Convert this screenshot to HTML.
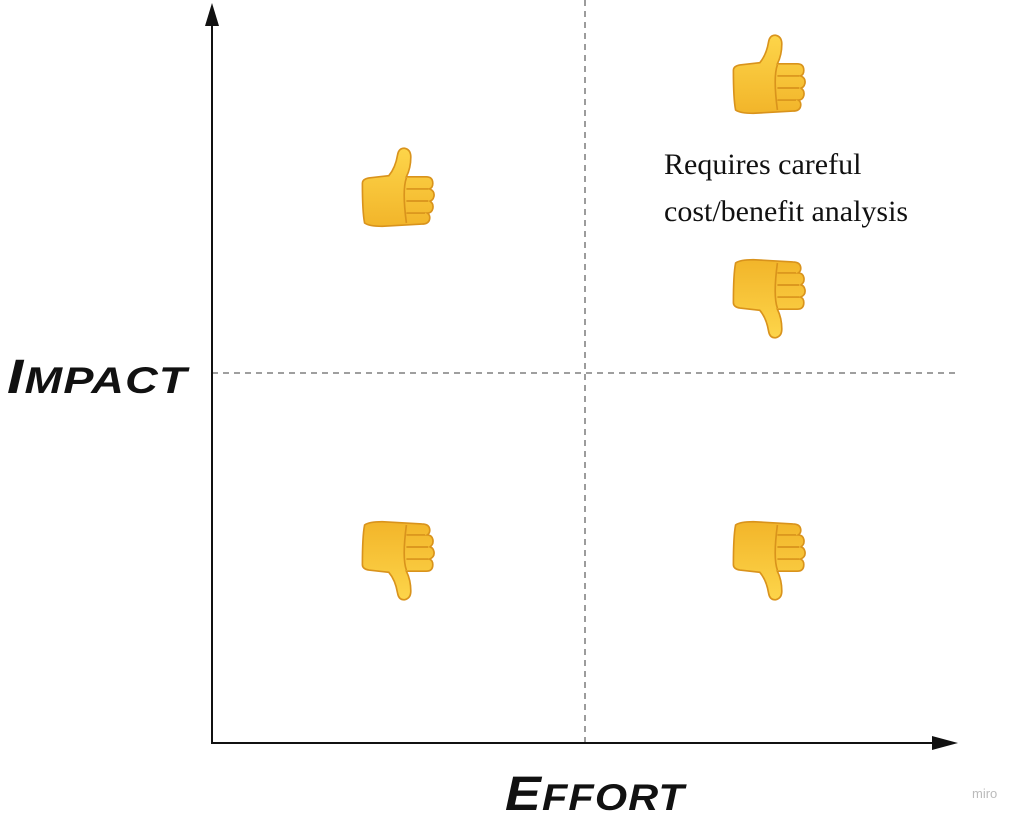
<!DOCTYPE html>
<html><head><meta charset="utf-8"><style>
body{margin:0;width:1030px;height:823px;background:#fff;overflow:hidden;position:relative}
svg{position:absolute;left:0;top:0}
.lbl{position:absolute;font-family:"Liberation Sans",sans-serif;font-weight:bold;font-style:italic;color:#111;letter-spacing:1px;white-space:nowrap;transform-origin:0 0}
.txt{position:absolute;left:664px;top:141px;font-family:"Liberation Serif",serif;font-size:30px;line-height:47px;color:#111;white-space:nowrap}
.miro{position:absolute;left:972px;top:786px;font-family:"Liberation Sans",sans-serif;font-size:13px;color:#bbb}
</style></head><body>
<svg width="1030" height="823" viewBox="0 0 1030 823">
<defs>
<linearGradient id="g" x1="0" y1="0" x2="0" y2="1"><stop offset="0" stop-color="#fdd54a"/><stop offset="1" stop-color="#f2b52a"/></linearGradient>
<g id="up">
<path d="M4 34 Q4 30 10 29 L28 27 Q34 20 36 8 Q37 2 42 2 Q48 3 48 10 Q48 20 44 28 L62 28 Q68 28 68 34 Q68 38 65 39 Q70 41 69 46 Q68 50 65 50 Q69 52 68 57 Q67 61 63 61 Q66 63 65 67 Q64 71 58 71 L22 73 Q10 73 6 70 Q4 60 4 34 Z" fill="url(#g)" stroke="#d9931c" stroke-width="1.5"/>
<path d="M44 39 L64 39 M44 50 L64 50 M44 61 L61 61 M44 29 Q40 40 44 70" fill="none" stroke="#d9931c" stroke-width="1.5"/>
</g>
</defs>
<line x1="585" y1="0" x2="585" y2="743" stroke="#666" stroke-width="1.3" stroke-dasharray="6,5"/>
<line x1="212" y1="373" x2="958" y2="373" stroke="#666" stroke-width="1.3" stroke-dasharray="6,5"/>
<line x1="212" y1="20" x2="212" y2="744" stroke="#111" stroke-width="2"/>
<polygon points="212,3 205,26 219,26" fill="#111"/>
<line x1="211" y1="743" x2="940" y2="743" stroke="#111" stroke-width="2"/>
<polygon points="958,743 932,736 932,750" fill="#111"/>
<use href="#up" transform="translate(358,146) scale(1.1)"/>
<use href="#up" transform="translate(729,33) scale(1.1)"/>
<use href="#up" transform="translate(729,340) scale(1.1,-1.1)"/>
<use href="#up" transform="translate(358,602) scale(1.1,-1.1)"/>
<use href="#up" transform="translate(729,602) scale(1.1,-1.1)"/>
</svg>
<div class="lbl" style="left:7px;top:350px;font-size:48px;transform:scaleX(1.22)">I<span style="font-size:37px">MPACT</span></div>
<div class="lbl" style="left:505px;top:767px;font-size:48px;transform:scaleX(1.12)">E<span style="font-size:37px">FFORT</span></div>
<div class="txt">Requires careful<br>cost/benefit analysis</div>
<div class="miro">miro</div>
</body></html>
